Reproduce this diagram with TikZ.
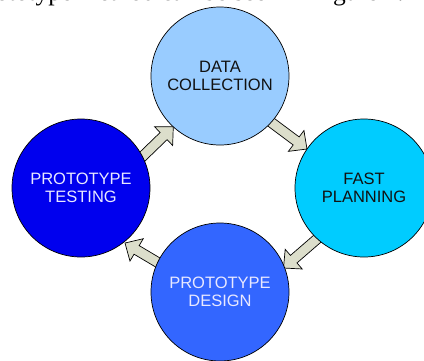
\documentclass[tikz,border=0pt]{standalone}
\usepackage{fontspec}
\setmainfont{Liberation Sans}
\newfontfamily\serifbody{Liberation Serif}
\usetikzlibrary{calc,backgrounds}
\definecolor{cData}{HTML}{99CCFF}
\definecolor{cFast}{HTML}{00CCFF}
\definecolor{cTest}{HTML}{0000EE}
\definecolor{cDesign}{HTML}{3366FF}
\definecolor{arrfill}{HTML}{DCDECB}
\definecolor{lighttext}{HTML}{E8E8FF}
\definecolor{darktext}{HTML}{111111}
% block arrow: #1 name, #2 tail coordinate, #3 tip coordinate
\newcommand\blockarrow[3]{%
  \coordinate (#1b) at ($(#3)!13.5pt!(#2)$);
  \draw[blockarr] ($(#2)!5pt!90:(#3)$) -- ($(#1b)!5pt!90:(#3)$)
    -- ($(#1b)!13pt!90:(#3)$) -- (#3) -- ($(#1b)!13pt!-90:(#3)$)
    -- ($(#1b)!5pt!-90:(#3)$) -- ($(#2)!5pt!-90:(#3)$) -- cycle;}
\begin{document}
\begin{tikzpicture}[x=1pt,y=-1pt,
  phase/.style={circle, draw=black, line width=0.7pt, minimum size=138pt,
    inner sep=0pt, align=center, font=\fontsize{16.5}{18.5}\selectfont},
  blockarr/.style={draw=black, fill=arrfill, line width=0.7pt, line join=miter}]
\useasboundingbox (0,0) rectangle (424,360);
\node[anchor=base east, inner sep=0pt, font=\serifbody\fontsize{25.5}{27}\selectfont] (caption) at (404,0) {ototype method can be seen in Figure 1.};
\node[phase, fill=cData, text=darktext] (data) at (220,76) {DATA\\COLLECTION};
\node[phase, fill=cFast, text=darktext] (fast) at (364,188) {FAST\\PLANNING};
\node[phase, fill=cDesign, text=lighttext] (design) at (220,292) {PROTOTYPE\\DESIGN};
\node[phase, fill=cTest, text=lighttext] (test) at (81,188) {PROTOTYPE\\TESTING};
\coordinate (a1s) at (265,117.7); \coordinate (a1e) at (307,149);
\coordinate (a2s) at (323,233.8); \coordinate (a2e) at (283.5,268);
\coordinate (a3s) at (163.9,266.1); \coordinate (a3e) at (125,243);
\coordinate (a4s) at (136.5,162.3); \coordinate (a4e) at (173.3,126.7);
\begin{scope}[on background layer]
\blockarrow{arrA}{a1s}{a1e}
\blockarrow{arrB}{a2s}{a2e}
\blockarrow{arrC}{a3s}{a3e}
\blockarrow{arrD}{a4s}{a4e}
\end{scope}
\end{tikzpicture}
\end{document}
